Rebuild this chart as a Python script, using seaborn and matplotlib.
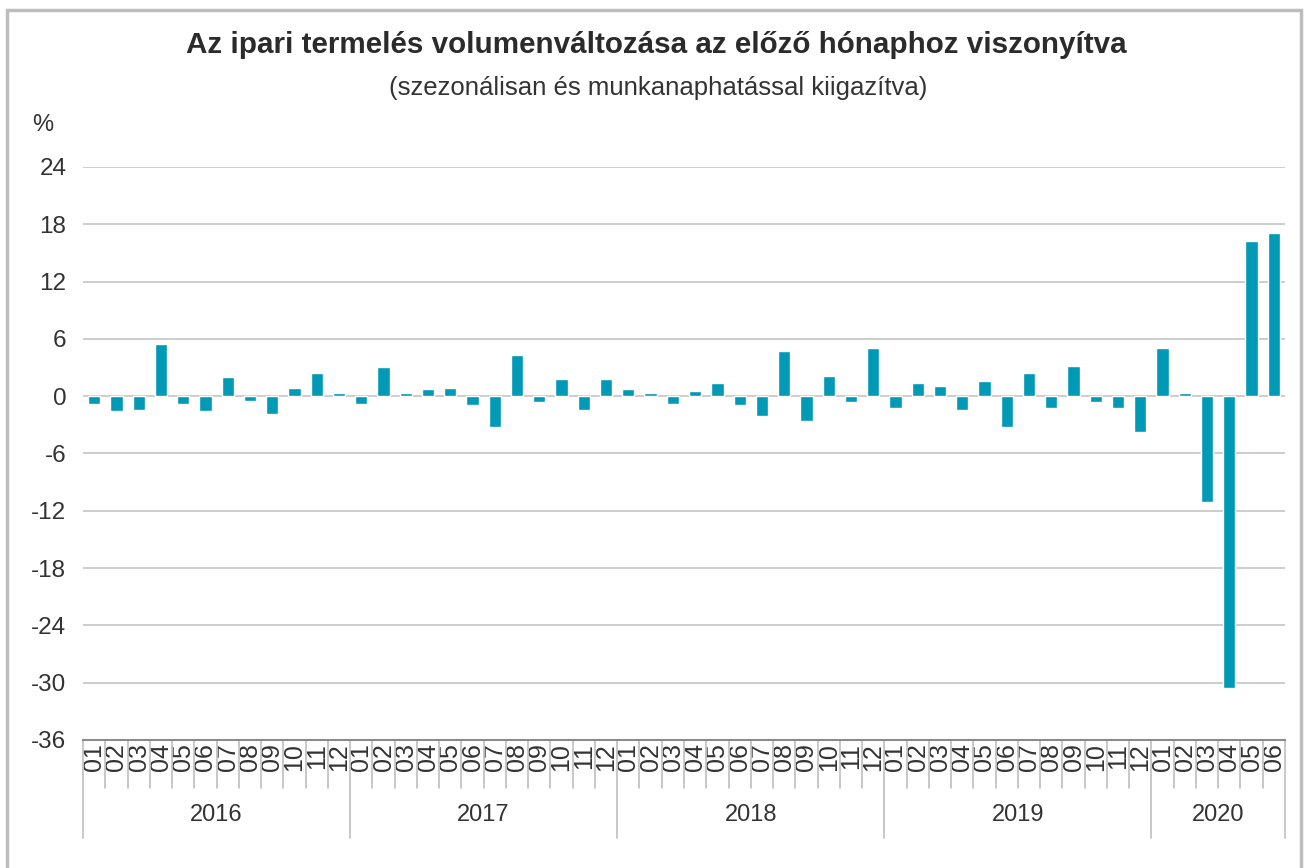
import numpy as np
import pandas as pd
import matplotlib
matplotlib.use("Agg")
import matplotlib.pyplot as plt
import matplotlib.transforms as mtransforms
import seaborn as sns

# ---- data ----
years = ["2016", "2017", "2018", "2019", "2020"]
months_per_year = [12, 12, 12, 12, 6]
v2016 = [-0.8, -1.6, -1.4, 5.5, -0.8, -1.6, 2.0, -0.5, -1.9, 0.9, 2.4, 0.3]
v2017 = [-0.8, 3.1, 0.3, 0.8, 0.9, -0.9, -3.2, 4.3, -0.6, 1.8, -1.4, 1.8]
v2018 = [0.8, 0.3, -0.8, 0.5, 1.4, -0.9, -2.1, 4.7, -2.6, 2.1, -0.6, 5.0]
v2019 = [-1.2, 1.4, 1.1, -1.4, 1.6, -3.2, 2.4, -1.2, 3.2, -0.6, -1.2, -3.7]
v2020 = [5.0, 0.3, -11.1, -30.6, 16.2, 17.1]
title = "Az ipari termelés volumenváltozása az előző hónaphoz viszonyítva"
subtitle = "(szezonálisan és munkanaphatással kiigazítva)"
unit_label = "%"
yticks = [-36, -30, -24, -18, -12, -6, 0, 6, 12, 18, 24]

values = v2016 + v2017 + v2018 + v2019 + v2020
month_labels = []
keys = []
for y, n in zip(years, months_per_year):
    for m in range(1, n + 1):
        month_labels.append(f"{m:02d}")
        keys.append(f"{y}-{m:02d}")
df = pd.DataFrame({"key": keys, "value": values})

sns.set_theme(style="white")
plt.rcParams["font.family"] = ["Liberation Sans", "DejaVu Sans"]

fig = plt.figure(figsize=(13.04, 8.68), dpi=100)
ax = fig.add_axes([83 / 1304, 1 - 740 / 868, (1285 - 83) / 1304, (740 - 167) / 868])

sns.barplot(data=df, x="key", y="value", order=keys, color="#0099B6",
            saturation=1, width=0.55, ax=ax, zorder=3)

ax.set_ylim(-36, 24)
ax.set_xlim(-0.5, len(keys) - 0.5)
ax.set_yticks(yticks)
ax.set_yticklabels([str(t) for t in yticks])
ax.yaxis.grid(True, color="#c9c9c9", linewidth=1.3, zorder=0)
ax.set_axisbelow(True)
ax.set_xlabel("")
ax.set_ylabel("")
for s in ["top", "right", "left"]:
    ax.spines[s].set_visible(False)
ax.spines["bottom"].set_color("#8c8c8c")
ax.spines["bottom"].set_linewidth(1.5)
ax.tick_params(axis="y", length=0, pad=12, labelsize=17.5, labelcolor="#333333")
ax.set_xticks(range(len(keys)))
ax.set_xticklabels(month_labels, rotation=90, va="top", ha="center",
                   fontsize=18, color="#333333")
ax.tick_params(axis="x", length=0, pad=2)

trans = mtransforms.blended_transform_factory(ax.transData, ax.transAxes)
ax_h = 740 - 167
m_low = -48 / ax_h
y_low = -98 / ax_h
start = 0
bounds = [start]
for n in months_per_year:
    start += n
    bounds.append(start)
year_edges = set(bounds)
for i in range(len(keys) + 1):
    x = i - 0.5
    low = y_low if i in year_edges else m_low
    ax.plot([x, x], [0, low], transform=trans, color="#c4c4c4",
            linewidth=1.3, clip_on=False, zorder=1)
for y, a, b in zip(years, bounds[:-1], bounds[1:]):
    ax.text((a + b - 1) / 2, -75 / ax_h, y, transform=trans, ha="center",
            va="center", fontsize=17, color="#333333")

fig.text(656 / 1304, 1 - 45 / 868, title, ha="center", va="center",
         fontsize=21.3, fontweight="bold", color="#2b2b2b")
fig.text(658 / 1304, 1 - 88 / 868, subtitle, ha="center", va="center",
         fontsize=18.5, color="#333333")
fig.text(43 / 1304, 1 - 125 / 868, unit_label, ha="center", va="center",
         fontsize=17, color="#333333")

frame = plt.Rectangle((7 / 1304, -0.05), (1301 - 7) / 1304, 1.05 - 10 / 868,
                      transform=fig.transFigure, fill=False,
                      edgecolor="#bdbdbd", linewidth=2.5)
fig.patches.append(frame)

fig.savefig("out.png", dpi=100, facecolor="white")
